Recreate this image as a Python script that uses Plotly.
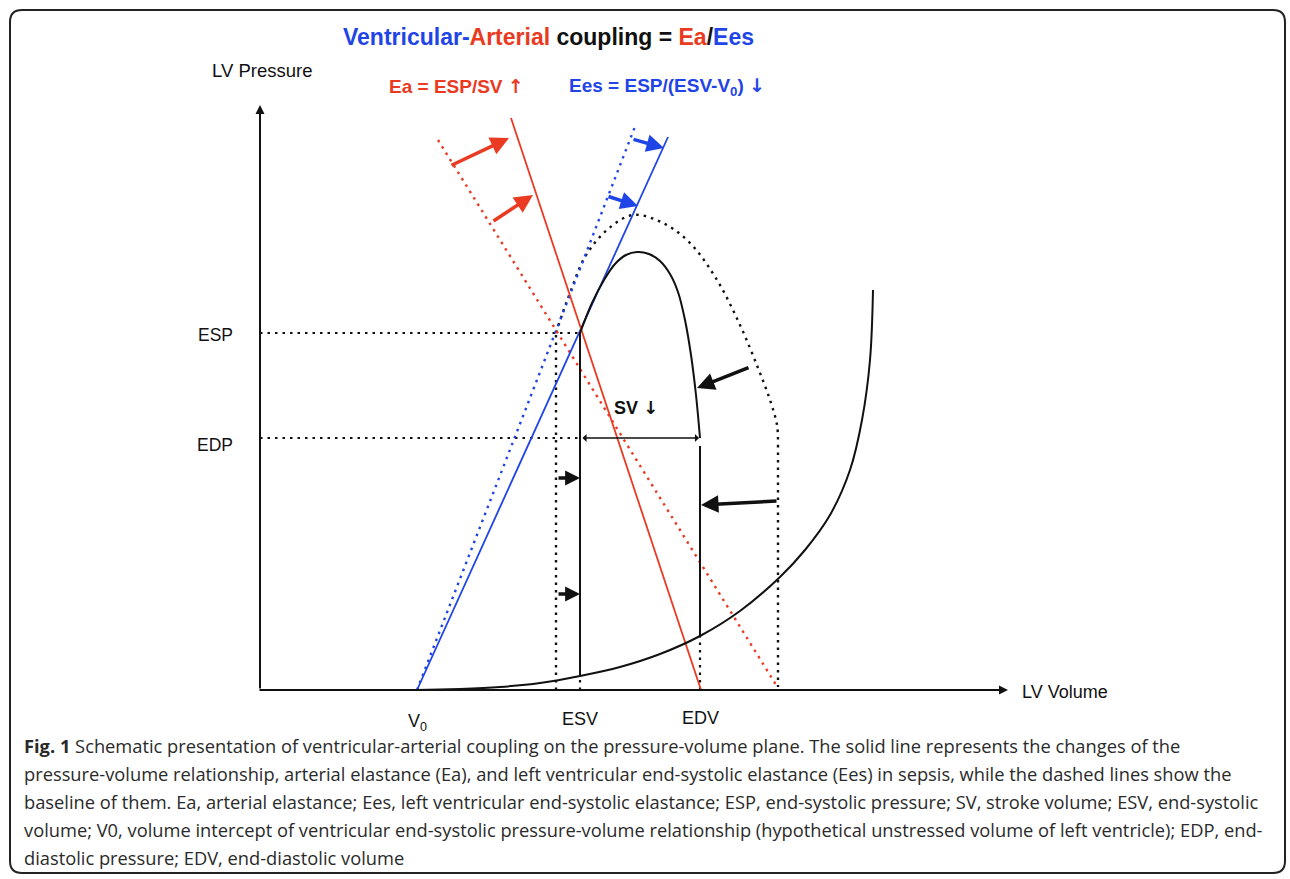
import plotly.graph_objects as go

# ---- data (volume, pressure) in schematic units ----
V0 = 157
ESV_base, ESV_sepsis = 296, 320
EDV_sepsis, EDV_base = 440, 518
ESP, EDP = 357, 252

# end-systolic pressure-volume relation (Ees)
ees_sepsis_v = [157, 408]
ees_sepsis_p = [0, 553]
ees_base_v = [157, 376]
ees_base_p = [0, 566]

# arterial elastance (Ea)
ea_sepsis_v = [251, 441]
ea_sepsis_p = [572, 0]
ea_base_v = [178, 518]
ea_base_p = [550, 2]

# end-diastolic pressure-volume relation
edpvr_v = [105, 157, 200, 240, 280, 320, 360, 400, 440, 480, 520, 545, 570, 590, 602, 610, 613]
edpvr_p = [0, 0, 1, 3, 7, 14, 23, 36, 54, 79, 113, 140, 175, 220, 270, 330, 400]

# sepsis PV loop (solid): ejection / filling curve between ESV and EDV
loop_sep_v = [320, 332, 344, 355, 366, 377, 389, 400, 410, 418, 425, 431, 436, 440]
loop_sep_p = [357, 387, 410, 426, 435, 438, 436, 429, 416, 398, 370, 335, 295, 252]

# baseline PV loop (dotted)
loop_base_v = [296, 303, 310, 325, 347, 373, 403, 430, 457, 480, 498, 510, 517, 518]
loop_base_p = [357, 378, 397, 433, 460, 475, 467, 447, 410, 365, 322, 290, 265, 245]

RED = "#EA3A22"
BLUE = "#1F45E6"
BLACK = "#111111"
DOT = "2.5px,5px"

def px(x, y):
    """pixel position -> data coordinates (layout helper for text/arrows)"""
    return x - 260, 690 - y

fig = go.Figure()

def line(v, p, color, width=2, dash=None, shape="linear"):
    fig.add_trace(go.Scatter(x=v, y=p, mode="lines", hoverinfo="skip",
                             line=dict(color=color, width=width, dash=dash, shape=shape)))

# reference dotted lines
line([0, ESV_sepsis], [ESP, ESP], BLACK, 2.2, DOT)
line([0, ESV_sepsis], [EDP, EDP], BLACK, 2.2, DOT)
line([ESV_sepsis, ESV_sepsis], [0, 14], BLACK, 2.2, DOT)
line([EDV_sepsis, EDV_sepsis], [0, 54], BLACK, 2.2, DOT)

# baseline loop
line([ESV_base, ESV_base], [0, ESP], BLACK, 2.4, DOT)
line(loop_base_v, loop_base_p, BLACK, 2.4, DOT, "spline")
line([EDV_base, EDV_base], [245, 3], BLACK, 2.4, DOT)
# elastances
line(ees_base_v, ees_base_p, BLUE, 2.4, DOT)
line(ea_base_v, ea_base_p, RED, 2.4, DOT)
line(ees_sepsis_v, ees_sepsis_p, BLUE, 1.8)
line(ea_sepsis_v, ea_sepsis_p, RED, 1.8)
# EDPVR and sepsis loop
line(edpvr_v, edpvr_p, BLACK, 2, None, "spline")
line([ESV_sepsis, ESV_sepsis], [14, ESP], BLACK, 2)
line(loop_sep_v, loop_sep_p, BLACK, 2, None, "spline")
line([EDV_sepsis, EDV_sepsis], [244, 54], BLACK, 2)

annotations = []

def arrow(x0, y0, x1, y1, color, width=3, head=2, size=1.0, both=False):
    a0 = px(x0, y0)
    a1 = px(x1, y1)
    annotations.append(dict(x=a1[0], y=a1[1], ax=a0[0], ay=a0[1], xref="x", yref="y",
                            axref="x", ayref="y", text="", showarrow=True,
                            arrowhead=head, arrowsize=size, arrowwidth=width,
                            arrowcolor=color, standoff=0, startstandoff=0,
                            arrowside="end+start" if both else "end",
                            startarrowhead=head, startarrowsize=size))

# axes with arrowheads
arrow(260, 690, 260, 105, BLACK, 2, 2, 0.9)
arrow(258, 690, 1008, 690, BLACK, 2, 2, 0.9)

# change arrows
arrow(450, 166, 509, 138, RED, 3.5, 2, 1.05)
arrow(492, 222, 533, 195, RED, 3.5, 2, 1.05)
arrow(632, 139, 664, 148, BLUE, 3.5, 2, 1.0)
arrow(607, 196, 638, 206, BLUE, 3.5, 2, 1.0)
arrow(750, 367, 697, 388, BLACK, 3.5, 2, 1.0)
arrow(778, 501, 701, 505, BLACK, 3.5, 2, 1.0)
arrow(557, 478, 580, 478, BLACK, 3.5, 2, 0.85)
arrow(557, 594, 580, 594, BLACK, 3.5, 2, 0.85)
# SV double arrow
arrow(581, 438, 699, 438, BLACK, 1.5, 1, 0.9, both=True)

def label(x, y, text, size=17, color="#111111", family="Liberation Sans, Arial, sans-serif",
          xanchor="center"):
    d = px(x, y)
    annotations.append(dict(x=d[0], y=d[1], xref="x", yref="y", text=text, showarrow=False,
                            xanchor=xanchor, yanchor="middle",
                            font=dict(size=size, color=color, family=family)))

ARR = "<span style='font-family:DejaVu Sans'>{}</span>"

label(548, 37, f"<b><span style='color:{BLUE}'>Ventricular-</span>"
               f"<span style='color:{RED}'>Arterial</span> coupling = "
               f"<span style='color:{RED}'>Ea</span>/<span style='color:{BLUE}'>Ees</span></b>",
      size=23)
label(262, 70, "LV Pressure", 18.5)
label(456, 86, "<b>Ea = ESP/SV " + ARR.format("\u2191") + "</b>", 19, RED)
label(667, 86, "<b>Ees = ESP/(ESV-V<sub>0</sub>) " + ARR.format("\u2193") + "</b>", 19, BLUE)
label(215, 335, "ESP", 17.5)
label(215, 445, "EDP", 17.5)
label(636, 407, "<b>SV " + ARR.format("\u2193") + "</b>", 18)
label(417, 722, "V<sub>0</sub>", 18)
label(580, 719, "ESV", 18)
label(700, 718, "EDV", 18)
label(1020, 692, "LV Volume", 18, xanchor="left")

caption = [
    "<b>Fig. 1</b> Schematic presentation of ventricular-arterial coupling on the pressure-volume plane. The solid line represents the changes of the",
    "pressure-volume relationship, arterial elastance (Ea), and left ventricular end-systolic elastance (Ees) in sepsis, while the dashed lines show the",
    "baseline of them. Ea, arterial elastance; Ees, left ventricular end-systolic elastance; ESP, end-systolic pressure; SV, stroke volume; ESV, end-systolic",
    "volume; V0, volume intercept of ventricular end-systolic pressure-volume relationship (hypothetical unstressed volume of left ventricle); EDP, end-",
    "diastolic pressure; EDV, end-diastolic volume",
]
for i, t in enumerate(caption):
    label(22, 745 + 28 * i, t, 18.3, "#2a2a2a", "Open Sans, sans-serif", "left")

# rounded frame
x0, y0 = px(10, 10)
x1, y1 = px(1285, 873)
r = 12
path = (f"M{x0 + r},{y0} L{x1 - r},{y0} Q{x1},{y0} {x1},{y0 - r} "
        f"L{x1},{y1 + r} Q{x1},{y1} {x1 - r},{y1} L{x0 + r},{y1} Q{x0},{y1} {x0},{y1 + r} "
        f"L{x0},{y0 - r} Q{x0},{y0} {x0 + r},{y0} Z")

fig.update_layout(
    width=1290, height=879, margin=dict(l=0, r=0, t=0, b=0),
    paper_bgcolor="white", plot_bgcolor="white", showlegend=False,
    xaxis=dict(range=[-260, 1030], visible=False, fixedrange=True),
    yaxis=dict(range=[-189, 690], visible=False, fixedrange=True),
    annotations=annotations,
    shapes=[dict(type="path", path=path, xref="x", yref="y",
                 line=dict(color="#222222", width=2))],
)

fig.write_html("out.html", config={"displayModeBar": False},
               post_script="document.body.style.margin='0px';document.body.style.overflow='hidden';")
